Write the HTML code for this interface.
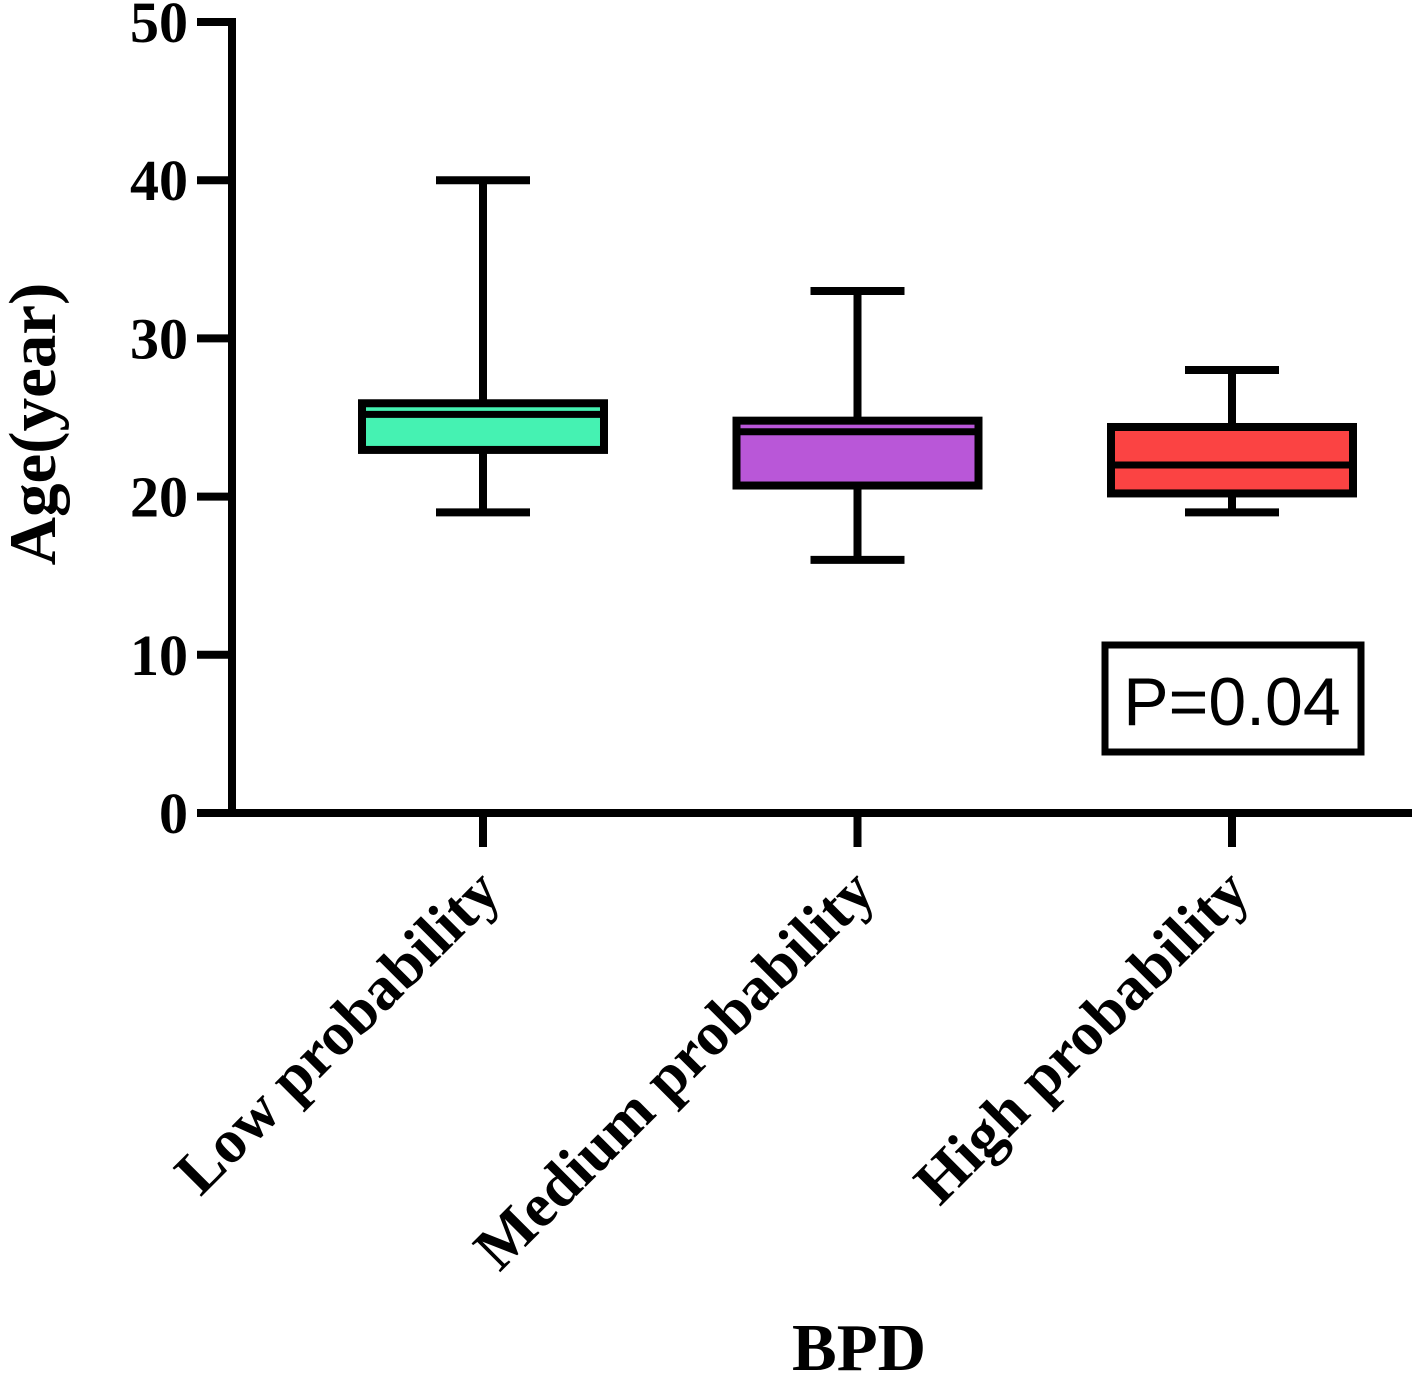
<!DOCTYPE html>
<html><head><style>body{margin:0;background:#fff}</style></head><body>
<svg id="c" width="1417" height="1374" xmlns="http://www.w3.org/2000/svg" font-family="Liberation Serif, serif" font-weight="bold"></svg>
<script>
const categories=["Low probability","Medium probability","High probability"];
const mins=[19,16,19];
const q1s=[22.95,20.7,20.2];
const medians=[25.2,24.1,22];
const q3s=[25.9,24.8,24.4];
const maxs=[40,33,28];
const colors=["#45f2b2","#b957d8","#fb4343"];
const yTicks=[0,10,20,30,40,50];
const svg=document.getElementById('c');
const NS='http://www.w3.org/2000/svg';
const y=v=>813-v*15.82;
const x=i=>483+i*374.5;
function mk(t,a,txt){const e=document.createElementNS(NS,t);for(const k in a)e.setAttribute(k,a[k]);if(txt!==undefined)e.textContent=txt;svg.appendChild(e);return e;}
let e;
e=mk('line',{x1:232,y1:18,x2:232,y2:817,stroke:'#000','stroke-width':8});


e=mk('line',{x1:197,y1:813,x2:1412,y2:813,stroke:'#000','stroke-width':8});


yTicks.forEach(v=>{
 e=mk('line',{x1:197,y1:y(v),x2:232,y2:y(v),stroke:'#000','stroke-width':8});
 
 
 e=mk('text',{x:188,y:y(v)+20,'text-anchor':'end','font-size':58},String(v));
 
 
});
categories.forEach((c,i)=>{
 const cx=x(i),hw=121,cw=47;
 e=mk('line',{x1:cx,y1:813,x2:cx,y2:847,stroke:'#000','stroke-width':8});
 
 
 e=mk('line',{x1:cx,y1:y(maxs[i]),x2:cx,y2:y(mins[i]),stroke:'#000','stroke-width':8});
 
 
 [maxs[i],mins[i]].forEach(v=>{
  e=mk('line',{x1:cx-cw,y1:y(v),x2:cx+cw,y2:y(v),stroke:'#000','stroke-width':8});
  
  
 });
 e=mk('rect',{x:cx-hw,y:y(q3s[i]),width:2*hw,height:y(q1s[i])-y(q3s[i]),fill:colors[i],stroke:'#000','stroke-width':8});
 
 
 e=mk('line',{x1:cx-hw,y1:y(medians[i]),x2:cx+hw,y2:y(medians[i]),stroke:'#000','stroke-width':7});
 
 
 e=mk('text',{x:0,y:0,'text-anchor':'end','font-size':62,transform:`translate(${cx+20},${895}) rotate(-45)`},c);
 
 
});
e=mk('text',{x:0,y:0,'text-anchor':'middle','font-size':67,transform:'translate(55,424) rotate(-90)'},'Age(year)');


e=mk('text',{x:859,y:1370,'text-anchor':'middle','font-size':67},'BPD');


e=mk('rect',{x:1105,y:645,width:256,height:107,fill:'#fff',stroke:'#000','stroke-width':7});


e=mk('text',{x:1232,y:725,'text-anchor':'middle','font-size':68,'font-weight':'normal','font-family':'Liberation Sans, sans-serif'},'P=0.04');


</script>
</body></html>
